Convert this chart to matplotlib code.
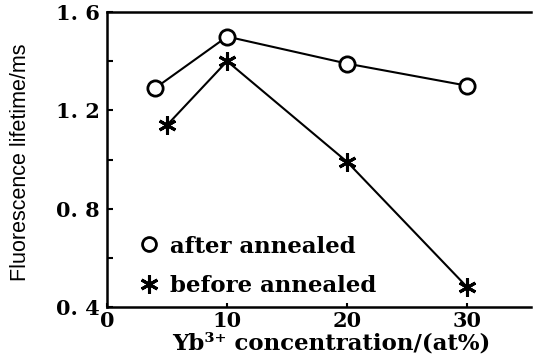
import matplotlib
matplotlib.use("Agg")
import matplotlib.pyplot as plt
from matplotlib.lines import Line2D

x_after = [4, 10, 20, 30]
y_after = [1.29, 1.50, 1.39, 1.30]
x_before = [5, 10, 20, 30]
y_before = [1.14, 1.40, 0.99, 0.48]
yticks = [0.4, 0.8, 1.2, 1.6]
ytick_labels = ["0. 4", "0. 8", "1. 2", "1. 6"]
xticks = [0, 10, 20, 30]
xtick_labels = ["0", "10", "20", "30"]
series_names = ["after annealed", "before annealed"]

serif = ["DejaVu Serif"]

fig = plt.figure(figsize=(5.33, 3.59), dpi=100)
ax = fig.add_axes([107/533, 1-307/359, (531-107)/533, (307-12)/359])

ax.plot(x_after, y_after, color="black", lw=1.5, marker="o", ms=11,
        mfc="white", mec="black", mew=2)
ax.plot(x_before, y_before, color="black", lw=1.5, marker=(6, 2, 0), ms=13,
        mec="black", mew=2.2)

ax.set_xlim(0, 35.3)
ax.set_ylim(0.4, 1.6)
ax.set_xticks(xticks)
ax.set_xticklabels(xtick_labels, fontfamily=serif, fontsize=15, fontweight="semibold")
ax.set_yticks(yticks)
ax.set_yticklabels(ytick_labels, fontfamily=serif, fontsize=15, fontweight="semibold")
ax.set_yticks([0.6, 1.0, 1.4], minor=True)
ax.tick_params(axis="both", which="both", direction="in", length=4, width=1.5, pad=5)
ax.tick_params(axis="x", which="both", length=3, pad=3)
for s in ax.spines.values():
    s.set_linewidth(1.8)
ax.spines["right"].set_visible(False)

ax.set_xlabel("Yb³⁺ concentration/(at%)", fontfamily=serif, fontsize=16.5,
              fontweight="bold")
ax.xaxis.set_label_coords(0.53, -0.085)
ax.xaxis.label.set_va("top")
ax.set_ylabel("Fluorescence lifetime/ms", fontfamily=["Liberation Sans", "DejaVu Sans"],
              fontsize=15.5)
ax.yaxis.set_label_coords(-0.18, 0.49)

handles = [
    Line2D([], [], ls="none", marker="o", ms=10, mfc="white", mec="black", mew=2),
    Line2D([], [], ls="none", marker=(6, 2, 0), ms=13, mec="black", mew=2.2),
]
ax.legend(handles, series_names, loc="lower left",
          bbox_to_anchor=(0.035, -0.035), frameon=False, handlelength=0.6, handletextpad=0.6,
          labelspacing=0.75, prop={"family": serif, "size": 16.5, "weight": "bold"})

fig.savefig("out.png", dpi=100)
